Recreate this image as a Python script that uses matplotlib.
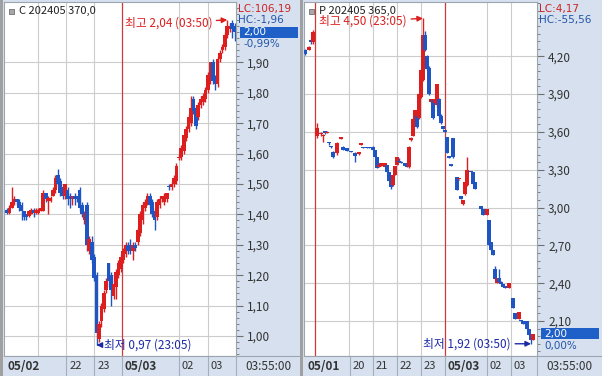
import matplotlib
matplotlib.use('Agg')
import matplotlib.pyplot as plt
import numpy as np
from matplotlib.patches import Rectangle
from matplotlib.lines import Line2D
from matplotlib.transforms import blended_transform_factory

plt.rcParams['font.family'] = ['Noto Sans CJK KR', 'DejaVu Sans']

W, H = 602, 376
RED = '#DC1E1E'
BLUE = '#1F55C3'
NAVY = '#1C2AA6'
PANEL_BG = '#D6E0EE'
GRID = '#CCCCCC'
EDGE = '#9CA4AE'

# ── Left panel: C 202405 370,0 (5-min bars, slot index) ─────────────
c_slot = list(range(95))
c_open = [1.415, 1.405, 1.42, 1.44, 1.45, 1.44, 1.43, 1.41, 1.40, 1.395,
          1.40, 1.415, 1.405, 1.405, 1.41, 1.41, 1.47, 1.445, 1.445, 1.46,
          1.48, 1.53, 1.51, 1.49, 1.46, 1.48, 1.46, 1.45, 1.46, 1.46,
          1.48, 1.43, 1.38, 1.43, 1.28, 1.31, 1.26, 1.20, 0.99, 1.05,
          1.09, 1.15, 1.24, 1.20, 1.13, 1.16, 1.20, 1.22, 1.25, 1.27,
          1.30, 1.30, 1.28, 1.30, 1.31, 1.34, 1.38, 1.42, 1.44, 1.46,
          1.44, 1.41, 1.39, 1.43, 1.45, 1.44, 1.45, 1.495, 1.49, 1.50,
          1.51, 1.585, 1.59, 1.61, 1.65, 1.68, 1.70, 1.78, 1.75, 1.72,
          1.76, 1.77, 1.78, 1.81, 1.84, 1.90, 1.85, 1.83, 1.91, 1.94,
          1.95, 1.99, 2.01, 2.03, 2.02]
c_high = [1.42, 1.43, 1.49, 1.46, 1.45, 1.45, 1.44, 1.41, 1.40, 1.41,
          1.42, 1.42, 1.42, 1.42, 1.42, 1.48, 1.47, 1.46, 1.46, 1.49,
          1.53, 1.55, 1.52, 1.50, 1.50, 1.49, 1.47, 1.46, 1.47, 1.46,
          1.49, 1.44, 1.41, 1.44, 1.33, 1.33, 1.27, 1.21, 1.05, 1.11,
          1.15, 1.19, 1.24, 1.21, 1.20, 1.22, 1.25, 1.27, 1.29, 1.31,
          1.31, 1.32, 1.31, 1.31, 1.36, 1.41, 1.44, 1.45, 1.47, 1.47,
          1.45, 1.42, 1.45, 1.46, 1.46, 1.47, 1.47, 1.50, 1.51, 1.53,
          1.57, 1.60, 1.63, 1.66, 1.69, 1.73, 1.79, 1.79, 1.76, 1.77,
          1.79, 1.80, 1.82, 1.87, 1.90, 1.91, 1.86, 1.92, 1.94, 1.96,
          2.00, 2.04, 2.03, 2.04, 2.03]
c_low = [1.40, 1.40, 1.42, 1.43, 1.43, 1.41, 1.38, 1.38, 1.38, 1.39,
         1.40, 1.39, 1.40, 1.40, 1.41, 1.41, 1.44, 1.40, 1.44, 1.46,
         1.47, 1.49, 1.46, 1.45, 1.45, 1.43, 1.42, 1.43, 1.43, 1.44,
         1.41, 1.39, 1.37, 1.28, 1.27, 1.24, 1.18, 0.97, 0.98, 1.03,
         1.08, 1.14, 1.16, 1.10, 1.12, 1.12, 1.19, 1.21, 1.24, 1.26,
         1.27, 1.27, 1.25, 1.28, 1.30, 1.33, 1.37, 1.41, 1.43, 1.42,
         1.39, 1.35, 1.38, 1.42, 1.44, 1.43, 1.44, 1.48, 1.48, 1.49,
         1.50, 1.58, 1.58, 1.60, 1.64, 1.67, 1.69, 1.73, 1.68, 1.71,
         1.75, 1.76, 1.77, 1.80, 1.83, 1.83, 1.81, 1.82, 1.90, 1.93,
         1.94, 1.98, 2.00, 1.98, 1.97]
c_close = [1.405, 1.42, 1.44, 1.45, 1.44, 1.42, 1.41, 1.39, 1.39, 1.41,
           1.415, 1.405, 1.415, 1.415, 1.42, 1.47, 1.45, 1.455, 1.455, 1.48,
           1.52, 1.50, 1.47, 1.46, 1.50, 1.45, 1.45, 1.46, 1.45, 1.455,
           1.42, 1.40, 1.40, 1.30, 1.32, 1.25, 1.19, 1.01, 1.04, 1.10,
           1.14, 1.18, 1.18, 1.15, 1.17, 1.21, 1.24, 1.26, 1.28, 1.30,
           1.28, 1.28, 1.30, 1.29, 1.35, 1.40, 1.43, 1.44, 1.46, 1.43,
           1.40, 1.38, 1.44, 1.45, 1.46, 1.46, 1.47, 1.49, 1.50, 1.52,
           1.56, 1.59, 1.62, 1.66, 1.68, 1.72, 1.75, 1.74, 1.69, 1.76,
           1.78, 1.79, 1.81, 1.86, 1.90, 1.84, 1.83, 1.91, 1.93, 1.95,
           1.99, 2.02, 2.02, 2.01, 2.00]
c_ticks = [1.00, 1.10, 1.20, 1.30, 1.40, 1.50, 1.60, 1.70, 1.80, 1.90]
c_ticklabels = ['1,00', '1,10', '1,20', '1,30', '1,40', '1,50', '1,60', '1,70', '1,80', '1,90']
c_grid_slots = [12.8, 24.4, 36, 71, 83]
c_day_slots = [47.5]
c_date_slots = [-1.2, 24.4, 36, 47.5, 71, 83]
c_date_labels = ['05/02', '22', '23', '05/03', '02', '03']

# ── Right panel: P 202405 365,0 ─────────────────────────────────────
p_slot = [-22, -20, -19, -18, -16, -14, -13, -12, -11, -10, -9, -8, -6, -4, -3, -1,
          1, 3, 5, 6, 7, 9, 10, 12, 13, 14, 15, 16, 17, 18, 19, 20, 21, 22, 23, 24,
          25, 26, 28, 29, 30, 31, 32, 33, 34, 35, 36, 37, 38, 39, 40, 41, 42, 43, 44,
          45, 46, 47, 48, 49, 50, 51, 52, 54, 55, 56, 57, 58, 59, 61, 62, 63, 66, 67,
          69, 70, 71, 72, 73, 74, 75, 76, 77, 78, 80, 82, 83, 85, 86, 87, 88, 89, 90,
          91, 92]
p_open = [4.25, 4.25, 4.33, 4.31, 3.57, 3.58, 3.565, 3.61, 3.59, 3.52, 3.49, 3.44, 3.43, 3.545, 3.48, 3.47,
          3.445, 3.43, 3.425, 3.50, 3.475, 3.475, 3.475, 3.48, 3.46, 3.40, 3.32, 3.33, 3.33, 3.32, 3.34, 3.28, 3.24, 3.18, 3.26, 3.34,
          3.37, 3.36, 3.35, 3.33, 3.32, 3.535, 3.57, 3.68, 3.73, 3.71, 3.88, 4.01, 4.37, 4.20, 4.11, 3.84, 3.85, 3.83, 3.81,
          3.86, 3.73, 3.65, 3.605, 3.56, 3.40, 3.335, 3.55, 3.24, 3.225, 3.09, 3.03, 3.11, 3.18, 3.29, 3.28, 3.20, 3.01, 2.99,
          2.94, 2.90, 2.73, 2.66, 2.51, 2.40, 2.44, 2.41, 2.39, 2.38, 2.36, 2.28, 2.16, 2.12, 2.11, 2.10, 2.09, 2.10, 2.04,
          2.00, 1.95]
p_high = [4.26, 4.28, 4.34, 4.41, 3.67, 3.60, 3.58, 3.61, 3.61, 3.52, 3.49, 3.45, 3.52, 3.555, 3.49, 3.47,
          3.45, 3.44, 3.43, 3.505, 3.48, 3.48, 3.48, 3.49, 3.46, 3.40, 3.34, 3.35, 3.35, 3.35, 3.34, 3.28, 3.24, 3.26, 3.33, 3.40,
          3.39, 3.37, 3.35, 3.33, 3.49, 3.56, 3.71, 3.77, 3.74, 3.91, 4.10, 4.50, 4.40, 4.21, 4.12, 3.86, 3.86, 3.86, 3.98,
          3.87, 3.74, 3.65, 3.61, 3.56, 3.40, 3.34, 3.55, 3.245, 3.23, 3.09, 3.06, 3.20, 3.40, 3.29, 3.28, 3.20, 3.01, 2.99,
          2.99, 2.90, 2.73, 2.66, 2.54, 2.44, 2.51, 2.42, 2.39, 2.38, 2.40, 2.28, 2.16, 2.17, 2.11, 2.10, 2.09, 2.10, 2.04,
          2.00, 2.00]
p_low = [4.21, 4.25, 4.30, 4.30, 3.55, 3.57, 3.52, 3.58, 3.59, 3.50, 3.47, 3.39, 3.42, 3.54, 3.46, 3.45,
         3.44, 3.36, 3.42, 3.50, 3.47, 3.47, 3.47, 3.46, 3.40, 3.31, 3.32, 3.33, 3.33, 3.32, 3.28, 3.21, 3.15, 3.17, 3.26, 3.34,
         3.36, 3.35, 3.33, 3.32, 3.31, 3.53, 3.57, 3.67, 3.63, 3.70, 3.87, 4.00, 4.24, 4.09, 3.89, 3.83, 3.70, 3.83, 3.80,
         3.72, 3.66, 3.62, 3.60, 3.43, 3.39, 3.33, 3.39, 3.14, 3.22, 3.07, 3.02, 3.10, 3.17, 3.28, 3.19, 3.15, 2.99, 2.94,
         2.94, 2.70, 2.66, 2.62, 2.43, 2.40, 2.41, 2.39, 2.37, 2.36, 2.36, 2.20, 2.12, 2.12, 2.10, 2.08, 2.08, 2.04, 1.99,
         1.92, 1.95]
p_close = [4.22, 4.27, 4.31, 4.39, 3.63, 3.59, 3.57, 3.59, 3.60, 3.51, 3.48, 3.40, 3.51, 3.55, 3.46, 3.45,
           3.44, 3.41, 3.43, 3.505, 3.47, 3.47, 3.47, 3.46, 3.40, 3.31, 3.34, 3.35, 3.345, 3.35, 3.28, 3.21, 3.16, 3.26, 3.33, 3.40,
           3.36, 3.35, 3.33, 3.32, 3.48, 3.555, 3.70, 3.77, 3.64, 3.90, 4.09, 4.37, 4.25, 4.10, 3.90, 3.86, 3.71, 3.86, 3.98,
           3.73, 3.67, 3.62, 3.60, 3.43, 3.395, 3.33, 3.40, 3.14, 3.23, 3.07, 3.06, 3.20, 3.30, 3.28, 3.19, 3.15, 2.99, 2.94,
           2.99, 2.70, 2.66, 2.62, 2.43, 2.44, 2.41, 2.39, 2.37, 2.36, 2.40, 2.20, 2.12, 2.17, 2.10, 2.08, 2.08, 2.04, 1.99,
           1.95, 2.00]
p_ticks = [2.10, 2.40, 2.70, 3.00, 3.30, 3.60, 3.90, 4.20]
p_ticklabels = ['2,10', '2,40', '2,70', '3,00', '3,30', '3,60', '3,90', '4,20']
p_grid_slots = [0, 12, 24, 36, 69, 81]
p_day_slots = [-17, 48]
p_date_slots = [-22.5, 0.5, 12, 24, 36, 48, 69, 81]
p_date_labels = ['05/01', '20', '21', '22', '23', '05/03', '02', '03']


def px_axes(fig, x0, y0, x1, y1, **kw):
    return fig.add_axes([x0 / W, 1 - y1 / H, (x1 - x0) / W, (y1 - y0) / H], **kw)


def draw_panel(fig, x0, x1, xlim, ylim, slots, o, h, l, c, body_w, ticks, ticklabels,
               minor_step, grid_slots, day_slots, date_slots, date_labels,
               title, lc, hc, last_label, pct, hi_text, lo_text, hi_off, lo_off, lo_ha):
    top, bot = 2, 356
    ax = px_axes(fig, x0, top, x1, bot, facecolor='white')
    ax.set_xlim(*xlim)
    ax.set_ylim(*ylim)
    ppu = (bot - top) / (ylim[1] - ylim[0])

    # grid
    for t in ticks:
        ax.axhline(t, color=GRID, lw=0.8, zorder=0)
    for s in grid_slots:
        ax.axvline(s, color=GRID, lw=0.8, zorder=0)
    for s in day_slots:
        ax.axvline(s, color='#D03838', lw=0.9, zorder=1)

    # candles
    min_h = 1.5 / ppu
    for s, op, hi, lo, cl in zip(slots, o, h, l, c):
        col = RED if cl >= op else BLUE
        ax.vlines(s, lo, hi, color=col, lw=1.0, zorder=2)
        ax.bar(s, max(abs(cl - op), min_h), body_w, bottom=min(op, cl),
               color=col, lw=0, zorder=3)

    # price axis on the right
    ax.set_xticks([])
    ax.yaxis.tick_right()
    ax.set_yticks(ticks)
    ax.set_yticklabels(ticklabels)
    lo_m = np.ceil(ylim[0] / minor_step) * minor_step
    ax.set_yticks(np.arange(lo_m, ylim[1], minor_step), minor=True)
    ax.tick_params(axis='y', which='major', direction='out', length=5, width=0.8,
                   color='#707070', pad=3, labelsize=8.5, labelcolor='#333333')
    ax.tick_params(axis='y', which='minor', direction='out', length=2.5, width=0.7,
                   color='#808080')
    for sp in ax.spines.values():
        sp.set_color(EDGE)
        sp.set_linewidth(0.8)

    # title legend
    fig.add_artist(Rectangle(((x0 + 5) / W, 1 - 14 / H), 5 / W, 5 / H,
                             transform=fig.transFigure, facecolor='#A8A8A8',
                             edgecolor='#707070', lw=0.6))
    ax.annotate(title, xy=(0, 1), xycoords='axes fraction', xytext=(15, -9),
                textcoords='offset pixels', va='center', ha='left', fontsize=8,
                color='#222222')

    # LC / HC labels
    bt = blended_transform_factory(ax.transAxes, ax.transData)
    aw = x1 - x0
    ax.annotate(lc, xy=(1, 1), xycoords='axes fraction', xytext=(2, -7),
                textcoords='offset pixels', va='center', ha='left', fontsize=7.5,
                family='DejaVu Sans', color='#CC2222', annotation_clip=False)
    ax.annotate(hc, xy=(1, 1), xycoords='axes fraction', xytext=(2, -18.5),
                textcoords='offset pixels', va='center', ha='left', fontsize=7.5,
                family='DejaVu Sans', color='#2255AA', annotation_clip=False)

    # current price box
    last = c[-1]
    ax.add_patch(Rectangle((1 + 4 / aw, last - 5.5 / ppu), 58 / aw, 11 / ppu,
                           transform=bt, facecolor='#1E5FC8', edgecolor='none',
                           clip_on=False, zorder=5))
    ax.text(1 + 7 / aw, last, last_label, transform=bt, va='center', ha='left',
            fontsize=7.5, family='DejaVu Sans', color='white', zorder=6, clip_on=False)
    ax.text(1 + 7 / aw, last - 12 / ppu, pct, transform=bt, va='center', ha='left',
            fontsize=7.5, family='DejaVu Sans', color='#2255AA', zorder=6, clip_on=False)

    # high / low annotations
    ih = int(np.argmax(h))
    il = int(np.argmin(l))
    ax.annotate(hi_text, xy=(slots[ih], h[ih]), xytext=(hi_off, -3),
                textcoords='offset pixels', ha='right', va='center', fontsize=8.5,
                color=RED, zorder=7,
                arrowprops=dict(arrowstyle='-|>', color=RED, lw=1, shrinkA=1,
                                shrinkB=0, mutation_scale=8))
    ax.annotate(lo_text, xy=(slots[il], l[il]), xytext=(lo_off, 0),
                textcoords='offset pixels', ha=lo_ha, va='center', fontsize=8.5,
                color=NAVY, zorder=7,
                arrowprops=dict(arrowstyle='-|>', color=NAVY, lw=1, shrinkA=1,
                                shrinkB=0, mutation_scale=8))

    # date bar
    db = px_axes(fig, x0, bot, x1, H, facecolor=PANEL_BG)
    db.set_xlim(*xlim)
    db.set_ylim(0, 1)
    db.set_xticks([])
    db.set_yticks([])
    for sp in db.spines.values():
        sp.set_visible(False)
    for i, (s, lab) in enumerate(zip(date_slots, date_labels)):
        if i > 0:
            db.axvline(s, color='#A4AEBB', lw=0.8)
        bold = '/' in lab
        db.annotate(lab, xy=(s, 0.5), xytext=(3, 0), textcoords='offset pixels',
                    va='center', ha='left', fontsize=8.5 if bold else 8,
                    fontweight='bold' if bold else 'normal', color='#333333')
    fig.add_artist(Line2D([x0 / W, (x1 + 64) / W], [1 - bot / H] * 2,
                          transform=fig.transFigure, color=EDGE, lw=0.8))
    fig.add_artist(Line2D([x1 / W] * 2, [0, 1 - bot / H],
                          transform=fig.transFigure, color='#A4AEBB', lw=0.8))
    fig.text((x1 + 32) / W, 1 - 366 / H, '03:55:00', ha='center', va='center',
             fontsize=8.5, color='#333333')
    return ax


fig = plt.figure(figsize=(W / 100, H / 100), dpi=100, facecolor=PANEL_BG)

draw_panel(fig, 4, 236, (-1.24, 94.6), (0.934, 2.099),
           c_slot, c_open, c_high, c_low, c_close, 1.5, c_ticks, c_ticklabels, 0.02,
           c_grid_slots, c_day_slots, c_date_slots, c_date_labels,
           'C 202405 370,0', 'LC:106,19', 'HC:-1,96', '2,00', '-0,99%',
           '최고 2,04 (03:50)', '최저 0,97 (23:05)', -15, 7, 'left')

draw_panel(fig, 304, 537, (-22.5, 94), (1.823, 4.63),
           p_slot, p_open, p_high, p_low, p_close, 1.6, p_ticks, p_ticklabels, 0.06,
           p_grid_slots, p_day_slots, p_date_slots, p_date_labels,
           'P 202405 365,0', 'LC:4,17', 'HC:-55,56', '2,00', '0,00%',
           '최고 4,50 (23:05)', '최저 1,92 (03:50)', -16, -20, 'right')

# panel borders
fig.add_artist(Rectangle((0, 0), 3 / W, 1, transform=fig.transFigure,
                         facecolor='#A0A0A0', edgecolor='none'))
fig.add_artist(Rectangle((300 / W, 0), 3 / W, 1, transform=fig.transFigure,
                         facecolor='#A0A0A0', edgecolor='none'))

fig.savefig('out.png', dpi=100, facecolor=fig.get_facecolor())
